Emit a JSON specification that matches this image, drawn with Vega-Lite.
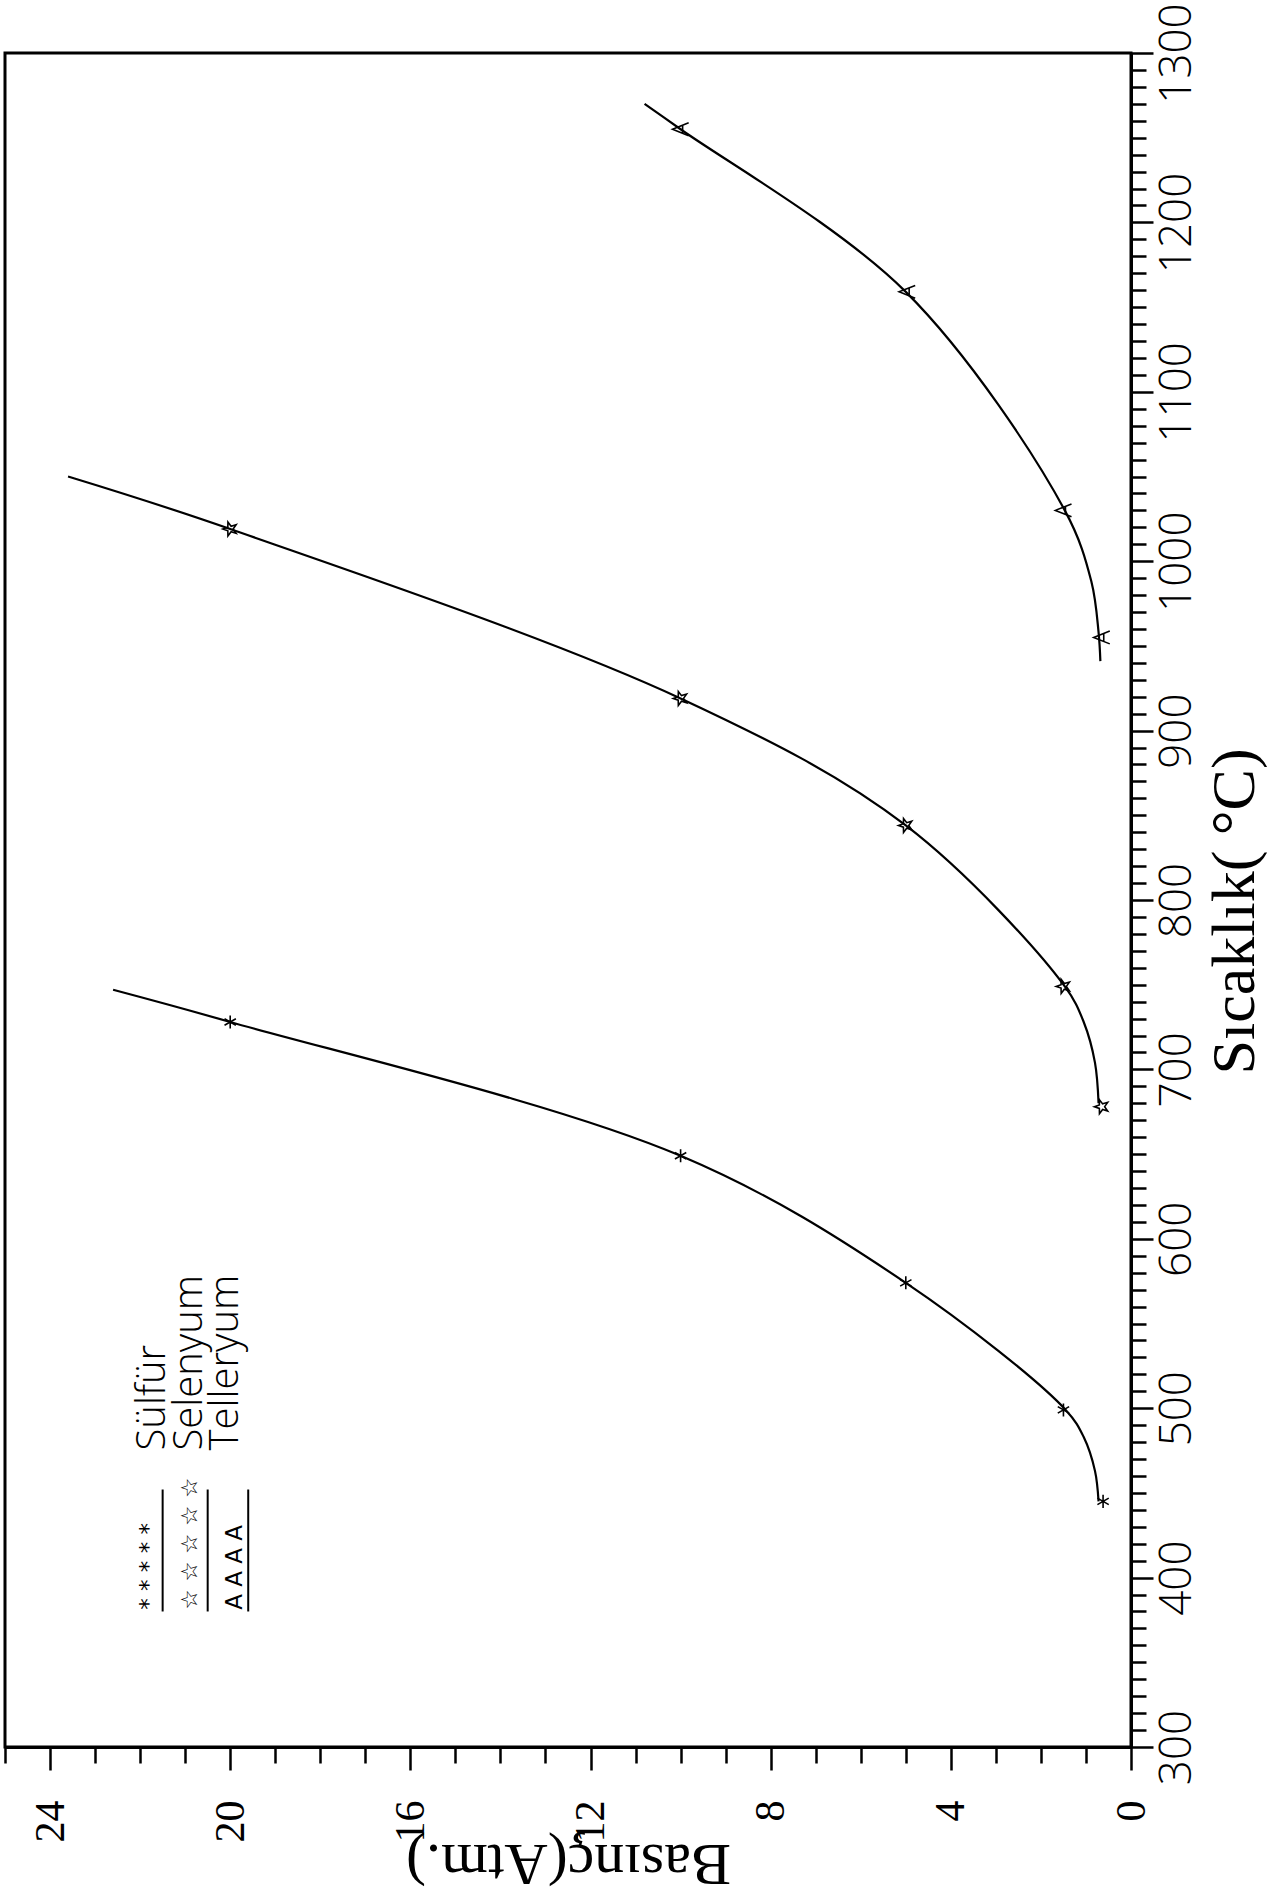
{
  "$schema": "https://vega.github.io/schema/vega-lite/v6.json",
  "width": 1126,
  "height": 1694,
  "autosize": {"type": "none"},
  "padding": {"left": 5, "top": 53, "right": 141, "bottom": 154},
  "background": "white",
  "config": {
    "view": {"stroke": "black", "strokeWidth": 3},
    "axis": {"grid": false}
  },
  "datasets": {
    "curves": [
      {"series": "Sülfür", "P": 0.72, "T": 445},
      {"series": "Sülfür", "P": 0.8, "T": 463},
      {"series": "Sülfür", "P": 1.05, "T": 483},
      {"series": "Sülfür", "P": 1.45, "T": 499},
      {"series": "Sülfür", "P": 5.0, "T": 574},
      {"series": "Sülfür", "P": 10.0, "T": 649},
      {"series": "Sülfür", "P": 20.0, "T": 728},
      {"series": "Sülfür", "P": 22.6, "T": 747},
      {"series": "Selenyum", "P": 0.72, "T": 680},
      {"series": "Selenyum", "P": 0.8, "T": 704},
      {"series": "Selenyum", "P": 1.05, "T": 728},
      {"series": "Selenyum", "P": 1.47, "T": 749},
      {"series": "Selenyum", "P": 5.0, "T": 844},
      {"series": "Selenyum", "P": 10.0, "T": 919},
      {"series": "Selenyum", "P": 20.0, "T": 1019},
      {"series": "Selenyum", "P": 23.6, "T": 1050},
      {"series": "Telleryum", "P": 0.68, "T": 941},
      {"series": "Telleryum", "P": 0.72, "T": 958},
      {"series": "Telleryum", "P": 0.88, "T": 988},
      {"series": "Telleryum", "P": 1.47, "T": 1030},
      {"series": "Telleryum", "P": 5.0, "T": 1159},
      {"series": "Telleryum", "P": 10.0, "T": 1255},
      {"series": "Telleryum", "P": 10.8, "T": 1270}
    ],
    "points": [
      {"series": "Sülfür", "P": 0.62, "T": 445},
      {"series": "Sülfür", "P": 1.5, "T": 499},
      {"series": "Sülfür", "P": 5.0, "T": 574},
      {"series": "Sülfür", "P": 10.0, "T": 649},
      {"series": "Sülfür", "P": 20.0, "T": 728},
      {"series": "Selenyum", "P": 0.65, "T": 678},
      {"series": "Selenyum", "P": 1.5, "T": 749},
      {"series": "Selenyum", "P": 5.0, "T": 844},
      {"series": "Selenyum", "P": 10.0, "T": 919},
      {"series": "Selenyum", "P": 20.0, "T": 1019},
      {"series": "Telleryum", "P": 0.65, "T": 955},
      {"series": "Telleryum", "P": 1.5, "T": 1030},
      {"series": "Telleryum", "P": 4.97, "T": 1159},
      {"series": "Telleryum", "P": 10.0, "T": 1255}
    ],
    "legendLabels": [
      {"series": "Sülfür", "label": "Sülfür", "P": 21.44, "T": 475},
      {"series": "Selenyum", "label": "Selenyum", "P": 20.62, "T": 475},
      {"series": "Telleryum", "label": "Telleryum", "P": 19.82, "T": 475}
    ],
    "legendSymbols": [
      {"series": "Sülfür", "sym": "*  *  *  *  *", "P": 21.8, "T": 381},
      {"series": "Selenyum", "sym": "☆ ☆ ☆ ☆ ☆", "P": 20.9, "T": 381},
      {"series": "Telleryum", "sym": "A  A  A  A", "P": 19.9, "T": 381}
    ],
    "legendLines": [
      {"series": "Sülfür", "P": 21.5, "T": 380, "T2": 452},
      {"series": "Selenyum", "P": 20.5, "T": 380, "T2": 452},
      {"series": "Telleryum", "P": 19.6, "T": 380, "T2": 452}
    ]
  },
  "layer": [
    {
      "data": {"name": "curves"},
      "mark": {"type": "line", "interpolate": "catmull-rom", "color": "black", "strokeWidth": 2.2},
      "encoding": {
        "x": {
          "field": "P", "type": "quantitative",
          "scale": {"domain": [0, 25], "reverse": true, "nice": false, "zero": false},
          "axis": {
            "title": "Basınç(Atm.)",
            "orient": "bottom",
            "values": [0,0.5,1,1.5,2,2.5,3,3.5,4,4.5,5,5.5,6,6.5,7,7.5,8,8.5,9,9.5,10,10.5,11,11.5,12,12.5,13,13.5,14,14.5,15,15.5,16,16.5,17,17.5,18,18.5,19,19.5,20,20.5,21,21.5,22,22.5,23,23.5,24,24.5,25],
            "tickCount": 1000,
            "format": "d",
            "labelExpr": "datum.value % 4 === 0 ? datum.label : ''",
            "labelAngle": 270,
            "labelAlign": "right",
            "labelBaseline": "middle",
            "labelFont": "Liberation Serif",
            "labelFontSize": 42,
            "labelColor": "black",
            "labelPadding": 30,
            "labelOverlap": false,
            "labelFlush": false,
            "tickSize": {"condition": {"test": "datum.value % 4 === 0", "value": 23}, "value": 16},
            "tickWidth": 2.5,
            "tickColor": "black",
            "domainColor": "black",
            "domainWidth": 3,
            "titleFont": "Liberation Serif",
            "titleFontSize": 60,
            "titleFontWeight": "normal",
            "titleColor": "black",
            "titleAngle": 180,
            "titleBaseline": "alphabetic",
            "titleY": 97
          }
        },
        "y": {
          "field": "T", "type": "quantitative",
          "scale": {"domain": [300, 1300], "nice": false, "zero": false},
          "axis": {
            "title": "Sıcaklık( °C)",
            "orient": "right",
            "values": [300,310,320,330,340,350,360,370,380,390,400,410,420,430,440,450,460,470,480,490,500,510,520,530,540,550,560,570,580,590,600,610,620,630,640,650,660,670,680,690,700,710,720,730,740,750,760,770,780,790,800,810,820,830,840,850,860,870,880,890,900,910,920,930,940,950,960,970,980,990,1000,1010,1020,1030,1040,1050,1060,1070,1080,1090,1100,1110,1120,1130,1140,1150,1160,1170,1180,1190,1200,1210,1220,1230,1240,1250,1260,1270,1280,1290,1300],
            "tickCount": 1000,
            "format": "d",
            "labelExpr": "datum.value % 100 === 0 ? datum.label : ''",
            "labelAngle": 270,
            "labelAlign": "center",
            "labelBaseline": "top",
            "labelFont": "Open Sans",
            "labelFontWeight": 300,
            "labelFontSize": 44,
            "labelColor": "black",
            "labelPadding": 2,
            "labelOverlap": false,
            "labelFlush": false,
            "tickSize": {"condition": {"test": "datum.value % 100 === 0", "value": 22}, "value": 15},
            "tickWidth": 2.5,
            "tickColor": "black",
            "domainColor": "black",
            "domainWidth": 3,
            "titleFont": "Liberation Serif",
            "titleFontSize": 62,
            "titleFontWeight": "normal",
            "titleColor": "black",
            "titleAngle": 270,
            "titleBaseline": "top",
            "titleAlign": "center",
            "titleX": 73,
            "titleY": 858
          }
        },
        "detail": {"field": "series"},
        "order": {"field": "T", "type": "quantitative"}
      }
    },
    {
      "data": {"name": "points"},
      "mark": {"type": "point", "filled": false, "stroke": "black", "strokeWidth": 1.6, "opacity": 1},
      "encoding": {
        "x": {"field": "P", "type": "quantitative", "scale": {"domain": [0, 25], "reverse": true, "nice": false, "zero": false}},
        "y": {"field": "T", "type": "quantitative", "scale": {"domain": [300, 1300], "nice": false, "zero": false}},
        "shape": {
          "field": "series", "type": "nominal", "legend": null,
          "scale": {
            "domain": ["Sülfür", "Selenyum", "Telleryum"],
            "range": [
              "M0,-1L0,1M-0.87,-0.5L0.87,0.5M-0.87,0.5L0.87,-0.5",
              "M-1,0L-0.324,-0.235L-0.309,-0.951L0.124,-0.38L0.809,-0.588L0.4,0L0.809,0.588L0.124,0.38L-0.309,0.951L-0.324,0.235Z",
              "M1,-0.8L-1,0L1,0.8M0.25,-0.45L0.25,0.45"
            ]
          }
        },
        "size": {
          "field": "series", "type": "nominal", "legend": null,
          "scale": {"domain": ["Sülfür", "Selenyum", "Telleryum"], "range": [170, 260, 320]}
        }
      }
    },
    {
      "data": {"name": "legendLabels"},
      "mark": {"type": "text", "angle": 270, "align": "left", "baseline": "alphabetic", "font": "Open Sans", "fontWeight": 300, "fontSize": 40, "color": "black"},
      "encoding": {
        "x": {"field": "P", "type": "quantitative", "scale": {"domain": [0, 25], "reverse": true, "nice": false, "zero": false}},
        "y": {"field": "T", "type": "quantitative", "scale": {"domain": [300, 1300], "nice": false, "zero": false}},
        "text": {"field": "label"}
      }
    },
    {
      "data": {"name": "legendSymbols"},
      "mark": {"type": "text", "angle": 270, "align": "left", "baseline": "middle", "font": "DejaVu Sans", "fontSize": 23, "color": "black"},
      "encoding": {
        "x": {"field": "P", "type": "quantitative", "scale": {"domain": [0, 25], "reverse": true, "nice": false, "zero": false}},
        "y": {"field": "T", "type": "quantitative", "scale": {"domain": [300, 1300], "nice": false, "zero": false}},
        "text": {"field": "sym"}
      }
    },
    {
      "data": {"name": "legendLines"},
      "mark": {"type": "rule", "color": "black", "strokeWidth": 2},
      "encoding": {
        "x": {"field": "P", "type": "quantitative", "scale": {"domain": [0, 25], "reverse": true, "nice": false, "zero": false}},
        "y": {"field": "T", "type": "quantitative", "scale": {"domain": [300, 1300], "nice": false, "zero": false}},
        "y2": {"field": "T2"}
      }
    }
  ]
}
